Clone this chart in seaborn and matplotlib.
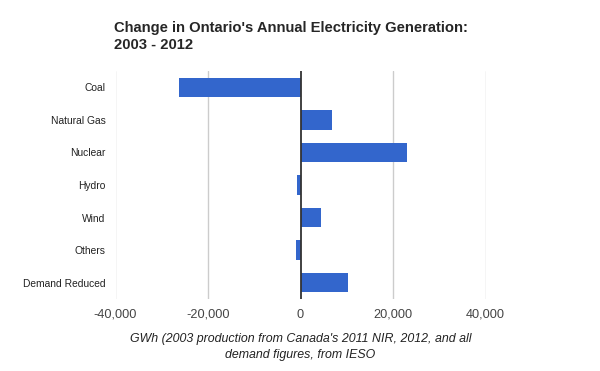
import pandas as pd
import numpy as np
import matplotlib.pyplot as plt
import seaborn as sns

# values (GWh change 2003 -> 2012)
sources = ['Coal', 'Natural Gas', 'Nuclear', 'Hydro', 'Wind', 'Others', 'Demand Reduced']
change_gwh = [-26200, 6900, 23000, -700, 4500, -950, 10300]
x_ticks = [-40000, -20000, 0, 20000, 40000]

df = pd.DataFrame({'Source': sources, 'Change': change_gwh})

sns.set_style('white')
plt.rcParams['font.family'] = ['Liberation Sans', 'DejaVu Sans']

fig = plt.figure(figsize=(6, 3.71), dpi=100)
ax = fig.add_axes([115.5 / 600, 1 - 299 / 371, 370 / 600, 228 / 371])

sns.barplot(data=df, x='Change', y='Source', orient='h', color='#3366cc',
            saturation=1, width=0.6, ax=ax, zorder=3, linewidth=0)

ax.set_xlim(-40000, 40000)
ax.set_ylim(len(sources) - 0.5, -0.5)
ax.set_xticks(x_ticks)
ax.set_xticklabels([f'{v:,}' for v in x_ticks], color='#444444', fontsize=9.2)
for v in x_ticks:
    if v == 0:
        ax.axvline(0, color='#333333', lw=1.3, zorder=4)
    else:
        ax.axvline(v, color='#cccccc', lw=1, zorder=1)

for lbl in ax.get_yticklabels():
    lbl.set_fontsize(7.4)
    lbl.set_color('#222222')
ax.tick_params(axis='x', length=0, pad=7)
ax.tick_params(axis='y', length=0, pad=7)
for s in ax.spines.values():
    s.set_visible(False)
ax.set_ylabel('')
ax.set_xlabel("GWh (2003 production from Canada's 2011 NIR, 2012, and all\ndemand figures, from IESO",
              fontstyle='italic', fontsize=8.9, color='#222222', labelpad=9, linespacing=1.45)

fig.text(114 / 600, 1 - 21 / 371,
         "Change in Ontario's Annual Electricity Generation:\n2003 - 2012",
         fontsize=10.6, fontweight='bold', va='top', ha='left', linespacing=1.3)

plt.savefig('out.png', dpi=100)
